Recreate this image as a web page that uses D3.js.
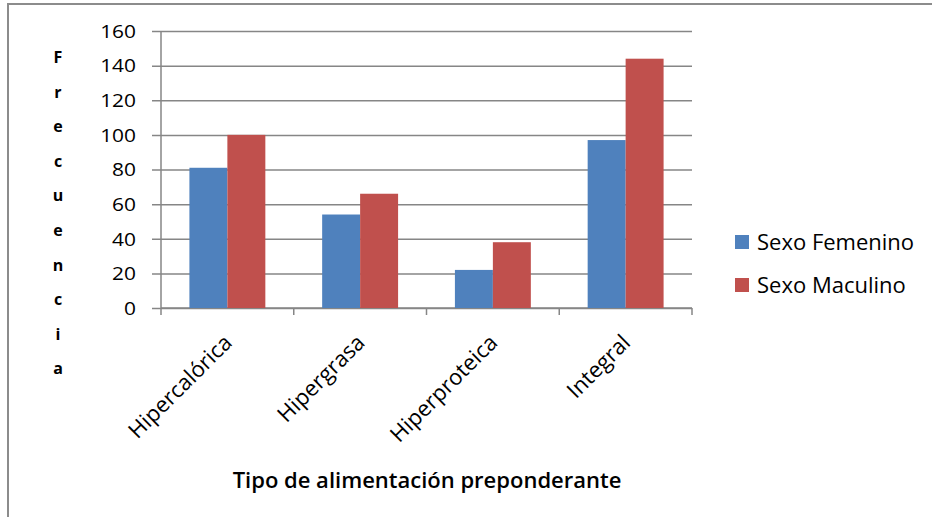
<!DOCTYPE html>
<html>
<head>
<meta charset="utf-8">
<script src="https://cdn.jsdelivr.net/npm/d3@7/dist/d3.min.js"></script>
<style>
  html, body { margin: 0; padding: 0; background: #ffffff; }
  svg { display: block; }
  text { font-family: "Open Sans", "Noto Sans", sans-serif; fill: #000; }
</style>
</head>
<body>
<svg id="chart" width="932" height="517"></svg>
<script>
// Tipos de alimentación y frecuencias por sexo
const categories = ["Hipercalórica", "Hipergrasa", "Hiperproteica", "Integral"];
const seriesNames = ["Sexo Femenino", "Sexo Maculino"];
const femenino = [81, 54, 22, 97];
const masculino = [100, 66, 38, 144];
const yTicks = [0, 20, 40, 60, 80, 100, 120, 140, 160];
const yTitle = "Frecuencia";
const xTitle = "Tipo de alimentación preponderante";
const colors = ["#4F81BD", "#C0504D"];

const svg = d3.select("#chart");

// Marco del gráfico
svg.append("rect")
  .attr("x", 8).attr("y", 4)
  .attr("width", 940).attr("height", 530)
  .attr("fill", "none").attr("stroke", "#8c8c8c").attr("stroke-width", 2);

const plot = { left: 161, right: 692, top: 31, bottom: 308 };

const x = d3.scaleBand().domain(categories).range([plot.left, plot.right]).padding(0);
const bw = x.bandwidth();
const xs = d3.scaleBand().domain(seriesNames).range([bw * 0.214, bw * 0.786]).padding(0);
const y = d3.scaleLinear().domain([0, 160]).range([plot.bottom, plot.top]);

// Líneas de división horizontales
const gy = svg.append("g").attr("transform", `translate(${plot.right},0)`)
  .call(d3.axisLeft(y).tickValues(yTicks).tickSize(plot.right - plot.left + 9).tickFormat("").tickSizeOuter(0));
gy.select(".domain").remove();
gy.selectAll(".tick line").attr("stroke", "#868686").attr("stroke-width", 1.5);

// Etiquetas del eje vertical
svg.append("g").selectAll("text").data(yTicks).join("text")
  .attr("x", 136).attr("y", d => y(d))
  .attr("dy", "0.36em")
  .attr("text-anchor", "end")
  .attr("font-size", 19)
  .attr("transform", `translate(136,0) scale(1.1,1) translate(-136,0)`)
  .text(d => d);

// Eje vertical
svg.append("line")
  .attr("x1", plot.left).attr("x2", plot.left)
  .attr("y1", plot.top).attr("y2", plot.bottom)
  .attr("stroke", "#868686").attr("stroke-width", 1.5);

// Eje horizontal con marcas entre categorías
const gx = svg.append("g").attr("transform", `translate(0,${plot.bottom})`)
  .call(d3.axisBottom(x).tickSize(0).tickFormat(""));
gx.select(".domain").attr("stroke", "#868686").attr("stroke-width", 1.5)
  .attr("d", `M${plot.left},0H${plot.right}`);
gx.selectAll(".tick").remove();
const boundaries = categories.map(c => x(c)).concat([x(categories[categories.length - 1]) + bw]);
gx.selectAll("line.sep").data(boundaries).join("line")
  .attr("class", "sep")
  .attr("x1", d => d).attr("x2", d => d)
  .attr("y1", 0).attr("y2", 7)
  .attr("stroke", "#868686").attr("stroke-width", 1.5);

// Barras
const rows = categories.map((c, i) => ({ cat: c, vals: [femenino[i], masculino[i]] }));
const groups = svg.append("g").selectAll("g").data(rows).join("g")
  .attr("transform", d => `translate(${x(d.cat)},0)`);
groups.selectAll("rect")
  .data(d => d.vals.map((v, j) => ({ name: seriesNames[j], v, j })))
  .join("rect")
  .attr("x", d => xs(d.name))
  .attr("width", xs.bandwidth())
  .attr("y", d => y(d.v))
  .attr("height", d => y(0) - y(d.v))
  .attr("fill", d => colors[d.j]);

// Etiquetas de categoría giradas
svg.append("g").selectAll("text").data(categories).join("text")
  .attr("font-size", 22)
  .attr("text-anchor", "end")
  .attr("transform", d => `translate(${x(d) + bw / 2 + 6},${plot.bottom + 36}) rotate(-45)`)
  .text(d => d);

// Título del eje vertical, letra por letra
svg.append("g").selectAll("text").data(yTitle.split("")).join("text")
  .attr("x", 58).attr("y", (d, i) => 63 + i * 34.6)
  .attr("text-anchor", "middle")
  .attr("font-size", 16)
  .attr("font-weight", "bold")
  .text(d => d);

// Título del eje horizontal
svg.append("text")
  .attr("x", 427).attr("y", 488)
  .attr("text-anchor", "middle")
  .attr("font-size", 22)
  .attr("font-weight", 600)
  .text(xTitle);

// Leyenda
const legend = svg.append("g").selectAll("g").data(seriesNames).join("g")
  .attr("transform", (d, i) => `translate(735,${235 + i * 43})`);
legend.append("rect").attr("width", 14).attr("height", 14)
  .attr("fill", (d, i) => colors[i]);
legend.append("text").attr("x", 22).attr("y", 14.5)
  .attr("font-size", 22)
  .text(d => d);
</script>
</body>
</html>
